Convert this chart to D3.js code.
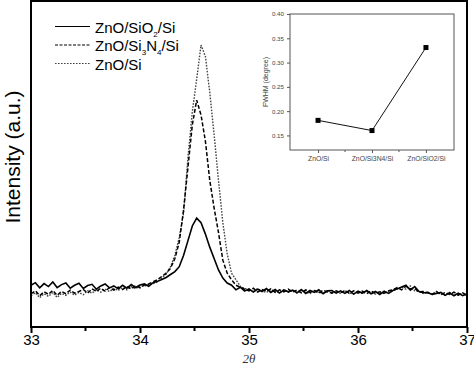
<!DOCTYPE html>
<html>
<head>
<meta charset="utf-8">
<script src="https://cdn.jsdelivr.net/npm/d3@7"></script>
<style>
  body { margin: 0; background: #fff; }
  svg { display: block; font-family: 'Liberation Sans', Arial, sans-serif; }
</style>
</head>
<body>
<div class="graph"><svg></svg></div>
<script>
// 2theta positions (degrees)
const twoTheta = [
  33, 33.04, 33.08, 33.12, 33.16, 33.2, 33.24, 33.28, 33.32, 33.36, 33.4, 33.44, 33.48, 33.52, 33.56, 33.6, 33.64, 33.68, 33.72, 33.76, 33.8, 33.84, 33.88, 33.92, 33.96,
  34, 34.04, 34.08, 34.12, 34.16, 34.2, 34.24, 34.28, 34.32, 34.36, 34.4, 34.44, 34.48, 34.52, 34.56, 34.6, 34.64, 34.68, 34.72, 34.76, 34.8, 34.84, 34.88, 34.92, 34.96,
  35, 35.04, 35.08, 35.12, 35.16, 35.2, 35.24, 35.28, 35.32, 35.36, 35.4, 35.44, 35.48, 35.52, 35.56, 35.6, 35.64, 35.68, 35.72, 35.76, 35.8, 35.84, 35.88, 35.92, 35.96,
  36, 36.04, 36.08, 36.12, 36.16, 36.2, 36.24, 36.28, 36.32, 36.36, 36.4, 36.44, 36.48, 36.52, 36.56, 36.6, 36.64, 36.68, 36.72, 36.76, 36.8, 36.84, 36.88, 36.92, 36.96,
  37
]

// intensity (a.u.)
const znoSiO2Si = [
  12.8, 13.6, 12.0, 13.3, 12.4, 13.8, 12.1, 13.0, 13.5, 11.9, 12.8,
  13.4, 11.8, 12.7, 13.1, 11.6, 12.6, 13.2, 12.0, 12.6, 11.7,
  12.8, 11.9, 13.0, 12.1, 12.9, 13.2, 12.5, 13.6,
  14.0, 14.6, 15.2, 16.1, 17.0, 18.5, 22.0, 26.5, 31.0, 33.4, 32.0, 28.5, 24.5, 21.0, 17.5, 15.0, 13.5, 12.8, 11.4, 12.2, 11.0,
  11.7, 10.7, 11.6, 10.9, 11.8, 10.6, 11.5, 10.4, 11.4, 10.8, 11.3,
  10.5, 11.5, 10.3, 11.2, 10.6, 11.4, 10.2, 11.1, 11.2, 10.4,
  11.1, 10.3, 11.2, 10.1, 11.0, 10.4, 11.2, 10.2, 10.9, 10.0,
  11.0, 10.3, 11.2, 11.7, 12.3, 12.8, 11.3, 12.4, 10.9, 10.5,
  10.6, 10.0, 10.3, 10.6, 9.7, 10.5, 9.6, 10.4, 9.6, 10.1
]
const znoSi3N4Si = [
  10.2, 11.1, 9.6, 10.8, 10.0, 11.2, 9.7, 10.9, 10.2, 11.3, 10.4,
  10.9, 11.5, 10.4, 11.7, 10.9, 11.9, 11.0, 12.1, 11.3, 12.2,
  11.5, 12.4, 11.7, 12.7, 12.0, 12.9, 13.2, 13.9,
  14.5, 15.5, 16.5, 18.0, 21.0, 26.0, 36.0, 49.0, 62.0, 69.6, 65.0, 57.0, 45.0, 36.5, 29.0, 20.5, 16.5, 14.5, 12.8, 12.2, 11.6,
  11.1, 11.9, 10.7, 11.5, 11.0, 11.7, 10.6, 11.4, 10.8, 11.6, 10.7,
  11.3, 10.5, 11.4, 10.6, 11.2, 10.4, 11.3, 10.7, 10.4, 11.1,
  10.5, 11.2, 10.3, 11.1, 10.4, 11.0, 10.2, 11.1, 10.3, 10.8,
  10.4, 11.1, 11.4, 12.1, 11.4, 12.5, 11.7, 11.8, 10.8, 10.9,
  10.5, 10.0, 10.9, 9.9, 10.6, 10.0, 10.7, 9.8, 10.5, 9.7
]
const znoSi = [
  9.6, 10.5, 9.0, 10.2, 9.4, 10.6, 9.1, 10.3, 9.7, 10.7, 9.8,
  10.6, 9.9, 11.1, 10.4, 11.4, 10.7, 11.6, 10.9, 11.8, 11.2,
  12.1, 11.4, 12.4, 11.8, 12.6, 12.5, 13.1, 13.3,
  13.8, 15.0, 16.2, 18.5, 22.0, 27.5, 35.0, 52.0, 66.0, 76.0, 86.5, 83.0, 72.0, 59.0, 45.0, 32.0, 22.5, 16.5, 14.5, 12.5, 11.8,
  11.5, 10.9, 11.8, 11.0, 10.6, 11.5, 10.9, 10.5, 11.4, 10.7, 11.2,
  10.5, 11.2, 10.7, 10.3, 11.3, 10.6, 10.4, 11.2, 10.5, 11.0,
  10.3, 11.0, 10.5, 10.1, 10.9, 10.2, 11.0, 10.4, 10.1, 10.8,
  10.2, 11.0, 11.2, 11.6, 12.2, 11.6, 12.6, 11.1, 10.9, 10.3,
  10.7, 10.0, 10.8, 10.1, 9.8, 10.6, 9.9, 9.7, 10.4, 9.6
]
const xTicks = [33, 34, 35, 36, 37]

// inset: FWHM per sample
const insetCategories = ['ZnO/Si', 'ZnO/Si3N4/Si', 'ZnO/SiO2/Si']
const insetFwhm = [0.181, 0.160, 0.331]
const insetYTicks = [0.15, 0.20, 0.25, 0.30, 0.35, 0.40]

const width = 474
const height = 366
const margin = { top: 1, right: 7, bottom: 39, left: 31 }
const plotW = width - margin.left - margin.right
const plotH = height - margin.top - margin.bottom

const svg = d3.select('.graph').select('svg')
  .attr('width', width)
  .attr('height', height)

const g = svg.append('g')
  .attr('transform', 'translate(' + margin.left + ',' + margin.top + ')')

const xScale = d3.scaleLinear().domain([33, 37]).range([0, plotW])
const yScale = d3.scaleLinear().domain([0, 100]).range([plotH, 0])

/**
 * Draws one diffraction pattern.
 *
 * @param {number[]} values The intensities
 * @param {string} dash The dasharray of the line
 * @param {string} color The stroke colour
 * @param {number} sw The stroke width
 */
function drawPattern (values, dash, color, sw) {
  const line = d3.line()
    .x((d, i) => xScale(twoTheta[i]))
    .y(d => yScale(d))
  g.append('path')
    .datum(values)
    .attr('d', line)
    .attr('fill', 'none')
    .attr('stroke', color)
    .attr('stroke-width', sw)
    .attr('stroke-dasharray', dash)
}

drawPattern(znoSi, '1.6,1.4', '#444', 1.4)
drawPattern(znoSi3N4Si, '4,2', '#000', 1.5)
drawPattern(znoSiO2Si, null, '#000', 1.6)

// x axis
const xAxis = d3.axisBottom(xScale)
  .tickValues(xTicks)
  .tickSize(6)
  .tickSizeOuter(0)
  .tickFormat(d3.format('d'))
const xg = g.append('g')
  .attr('transform', 'translate(0,' + plotH + ')')
  .call(xAxis)
xg.select('.domain').remove()
xg.selectAll('line').attr('stroke-width', 2)
xg.selectAll('text')
  .attr('font-size', 15)
  .attr('font-family', 'Liberation Sans, Arial, sans-serif')
  .attr('fill', '#000')
  .attr('dy', '0.85em')
  .attr('y', 5)

// minor ticks
g.append('g')
  .selectAll('line')
  .data([33.5, 34.5, 35.5, 36.5])
  .join('line')
  .attr('x1', d => xScale(d))
  .attr('x2', d => xScale(d))
  .attr('y1', plotH)
  .attr('y2', plotH + 4)
  .attr('stroke', '#000')
  .attr('stroke-width', 2)

// frame
g.append('rect')
  .attr('width', plotW)
  .attr('height', plotH)
  .attr('fill', 'none')
  .attr('stroke', '#000')
  .attr('stroke-width', 2)

// axis titles
g.append('text')
  .text('Intensity (a.u.)')
  .attr('transform', 'translate(' + (-11) + ',' + 156 + ') rotate(-90)')
  .attr('text-anchor', 'middle')
  .attr('font-size', 21)

g.append('text')
  .text('2θ')
  .attr('x', xScale(35))
  .attr('y', plotH + 36)
  .attr('text-anchor', 'middle')
  .attr('font-size', 13)
  .attr('font-style', 'italic')
  .attr('font-family', 'Liberation Serif, Times New Roman, serif')
  .attr('fill', '#333')

// legend
const legendRows = [
  { parts: [['ZnO/SiO', 0], ['2', 1], ['/Si', 0]], dash: null, color: '#000' },
  { parts: [['ZnO/Si', 0], ['3', 1], ['N', 0], ['4', 1], ['/Si', 0]], dash: '3,1.5', color: '#000' },
  { parts: [['ZnO/Si', 0]], dash: '1.6,1.4', color: '#444' }
]
legendRows.forEach((row, i) => {
  const y = 26.5 + i * 18.5
  svg.append('line')
    .attr('x1', 55).attr('x2', 90)
    .attr('y1', y).attr('y2', y)
    .attr('stroke', row.color)
    .attr('stroke-width', 1.2)
    .attr('stroke-dasharray', row.dash)
  const t = svg.append('text')
    .attr('x', 95)
    .attr('y', y + 6)
    .attr('font-size', 15)
  row.parts.forEach((p, j) => {
    const prev = row.parts[j - 1]
    let dy = 0
    if (p[1]) dy = 4
    else if (prev && prev[1]) dy = -4
    t.append('tspan')
      .text(p[0])
      .attr('font-size', p[1] ? 8 : 15)
      .attr('dy', dy)
  })
})

// inset
const inset = { left: 290, top: 14, width: 164, height: 136 }
const ig = svg.append('g')
  .attr('transform', 'translate(' + inset.left + ',' + inset.top + ')')

const ix = d3.scalePoint().domain(insetCategories).range([0, inset.width]).padding(0.52)
const iy = d3.scaleLinear().domain([0.12, 0.40]).range([inset.height, 0])

ig.append('rect')
  .attr('width', inset.width)
  .attr('height', inset.height)
  .attr('fill', '#fff')
  .attr('stroke', '#555')
  .attr('stroke-width', 1)

const iyAxis = ig.append('g')
  .call(d3.axisLeft(iy).tickValues(insetYTicks).tickSize(3).tickFormat(d3.format('.2f')))
iyAxis.select('.domain').remove()
iyAxis.selectAll('line').attr('stroke', '#555')
iyAxis.selectAll('text').attr('font-size', 6.2).attr('fill', '#444')
  .attr('font-family', 'Liberation Sans, Arial, sans-serif')

const ixAxis = ig.append('g')
  .attr('transform', 'translate(0,' + inset.height + ')')
  .call(d3.axisBottom(ix).tickSize(3))
ixAxis.select('.domain').remove()
ixAxis.selectAll('line').attr('stroke', '#555')
ixAxis.selectAll('text').attr('font-size', 6.8).attr('fill', '#444')
  .attr('font-family', 'Liberation Sans, Arial, sans-serif')
  .attr('y', 6)

// minor category ticks
ig.append('g')
  .selectAll('line')
  .data([0, 1])
  .join('line')
  .attr('x1', i => (ix(insetCategories[i]) + ix(insetCategories[i + 1])) / 2)
  .attr('x2', i => (ix(insetCategories[i]) + ix(insetCategories[i + 1])) / 2)
  .attr('y1', inset.height)
  .attr('y2', inset.height + 2)
  .attr('stroke', '#555')

ig.append('text')
  .text('FWHM (degree)')
  .attr('transform', 'translate(-22,' + (inset.height / 2) + ') rotate(-90)')
  .attr('text-anchor', 'middle')
  .attr('font-size', 7)
  .attr('fill', '#444')

ig.append('path')
  .datum(insetFwhm)
  .attr('d', d3.line().x((d, i) => ix(insetCategories[i])).y(d => iy(d)))
  .attr('fill', 'none')
  .attr('stroke', '#111')
  .attr('stroke-width', 1)

ig.selectAll('rect.pt')
  .data(insetFwhm)
  .join('rect')
  .attr('class', 'pt')
  .attr('x', (d, i) => ix(insetCategories[i]) - 2.5)
  .attr('y', d => iy(d) - 2.5)
  .attr('width', 5)
  .attr('height', 5)
  .attr('fill', '#000')
</script>
</body>
</html>
